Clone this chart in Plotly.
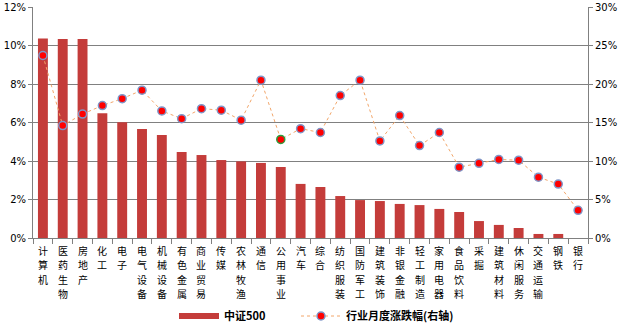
import plotly.graph_objects as go

# Shenwan industries, sorted by CSI 500 weight
industries = ["计算机", "医药生物", "房地产", "化工", "电子", "电气设备", "机械设备",
              "有色金属", "商业贸易", "传媒", "农林牧渔", "通信", "公用事业", "汽车",
              "综合", "纺织服装", "国防军工", "建筑装饰", "非银金融", "轻工制造",
              "家用电器", "食品饮料", "采掘", "建筑材料", "休闲服务", "交通运输",
              "钢铁", "银行"]

# CSI 500 industry weight (%)
csi500_weight = [10.37, 10.34, 10.34, 6.48, 6.01, 5.66, 5.35, 4.47, 4.31, 4.05,
                 3.98, 3.90, 3.69, 2.81, 2.65, 2.18, 1.97, 1.92, 1.77, 1.71,
                 1.51, 1.35, 0.88, 0.68, 0.52, 0.21, 0.21, 0.0]

# Monthly industry return (%), right axis
monthly_return = [23.7, 14.6, 16.1, 17.2, 18.1, 19.2, 16.5, 15.5, 16.8, 16.6,
                  15.3, 20.5, 12.8, 14.2, 13.7, 18.5, 20.5, 12.6, 15.9, 12.0,
                  13.7, 9.2, 9.7, 10.2, 10.1, 7.9, 7.0, 3.6]

left_ticks = [0, 2, 4, 6, 8, 10, 12]
right_ticks = [0, 5, 10, 15, 20, 25, 30]

BAR_RED = "#C43C3A"
CJK = "Noto Sans CJK SC"

marker_edges = ["#2E9E3E" if name == "公用事业" else "#7F96C8" for name in industries]

fig = go.Figure()

fig.add_trace(go.Bar(
    x=industries,
    y=csi500_weight,
    name="中证500",
    marker=dict(color=BAR_RED, line=dict(width=0)),
    width=0.5,
    yaxis="y",
    showlegend=False,
))

# legend entry for the bars, drawn as a wide band
fig.add_trace(go.Scatter(
    x=[None], y=[None],
    name="中证500",
    mode="lines",
    line=dict(color=BAR_RED, width=6),
    yaxis="y",
    legend="legend",
))

fig.add_trace(go.Scatter(
    x=industries,
    y=monthly_return,
    name="行业月度涨跌幅(右轴)",
    mode="lines+markers",
    line=dict(color="#F2A66A", width=1, dash="dot"),
    marker=dict(color="#FF0000", size=8, line=dict(color=marker_edges, width=1.5)),
    yaxis="y2",
    legend="legend2",
))

# category names written top-to-bottom, one character per line
for name in industries:
    for j, ch in enumerate(name):
        fig.add_annotation(
            x=name, xref="x",
            y=0, yref="paper",
            yanchor="middle",
            yshift=-(12 + 14.6 * j),
            text=ch,
            showarrow=False,
            font=dict(family=CJK, size=10, color="#000000"),
        )

tick_font = dict(family="DejaVu Sans", size=10, color="#000000")
legend_font = dict(family=CJK, size=11, color="#000000", weight="bold")

fig.update_layout(
    width=621,
    height=325,
    margin=dict(l=33, r=33, t=7, b=87),
    paper_bgcolor="white",
    plot_bgcolor="white",
    showlegend=True,
    bargap=0.5,
    legend=dict(
        orientation="h",
        xref="container", yref="container",
        x=174 / 621, xanchor="left",
        y=9 / 325, yanchor="middle",
        font=legend_font,
        itemwidth=40,
        bgcolor="rgba(0,0,0,0)",
    ),
    legend2=dict(
        orientation="h",
        xref="container", yref="container",
        x=296 / 621, xanchor="left",
        y=9 / 325, yanchor="middle",
        font=legend_font,
        itemwidth=40,
        bgcolor="rgba(0,0,0,0)",
    ),
    xaxis=dict(
        tickmode="array",
        tickvals=industries,
        showticklabels=False,
        showline=True,
        linecolor="#808080",
        linewidth=1,
        ticks="outside",
        tickson="boundaries",
        ticklen=5,
        tickcolor="#808080",
        showgrid=False,
        automargin=False,
        range=[-0.5, len(industries) - 0.5],
    ),
    yaxis=dict(
        range=[0, 12],
        tickvals=left_ticks,
        ticktext=[f"{v}%" for v in left_ticks],
        tickfont=tick_font,
        showgrid=True,
        gridcolor="#808080",
        gridwidth=1,
        showline=True,
        linecolor="#808080",
        ticks="outside",
        ticklen=4,
        tickcolor="#808080",
        zeroline=False,
        automargin=False,
    ),
    yaxis2=dict(
        range=[0, 30],
        tickvals=right_ticks,
        ticktext=[f"{v}%" for v in right_ticks],
        tickfont=tick_font,
        overlaying="y",
        side="right",
        showgrid=False,
        showline=True,
        linecolor="#808080",
        ticks="outside",
        ticklen=4,
        tickcolor="#808080",
        zeroline=False,
        automargin=False,
    ),
)

fig.write_html("out.html")
